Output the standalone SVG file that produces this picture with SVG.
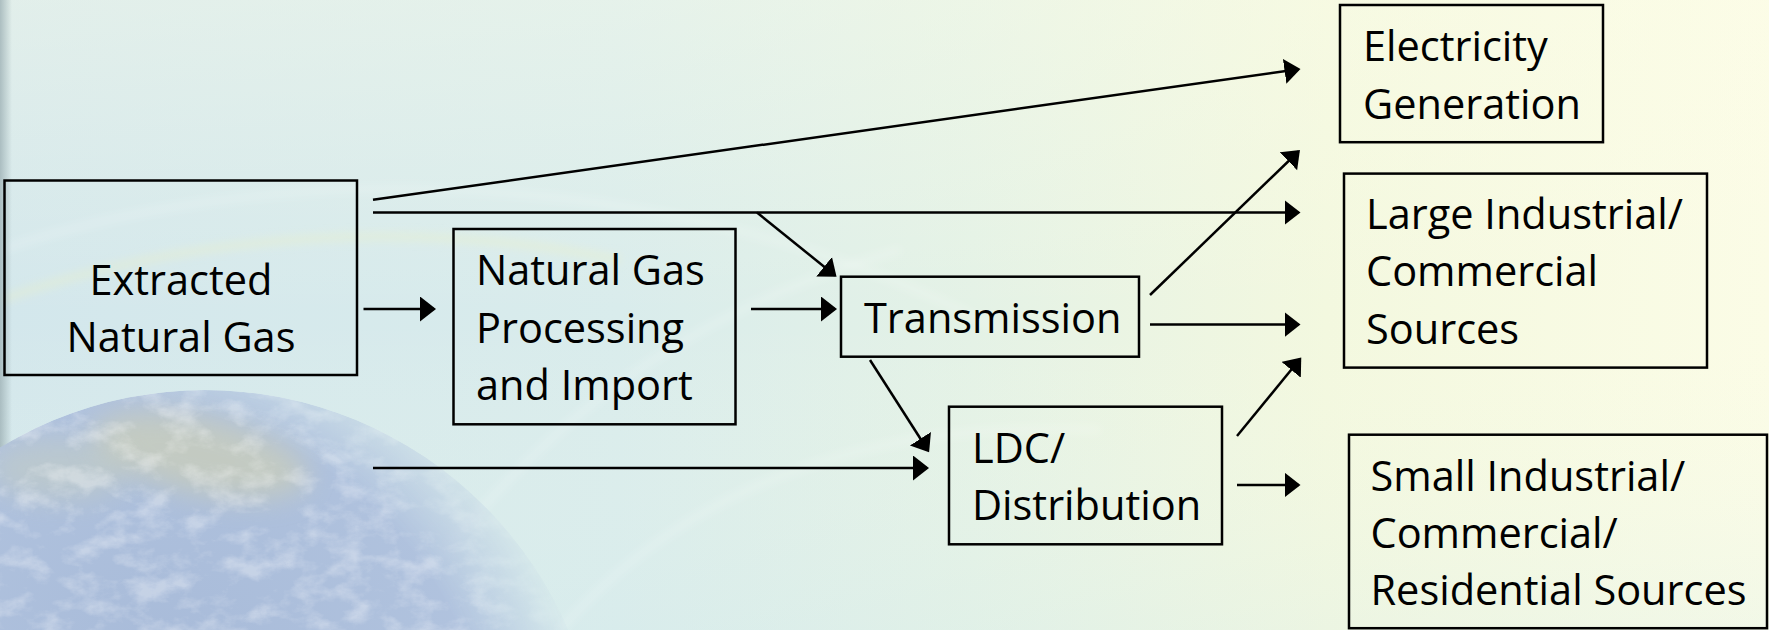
<svg xmlns="http://www.w3.org/2000/svg" width="1769" height="630" viewBox="0 0 1769 630">
  <style>
    .box { fill: none; stroke: #000; stroke-width: 2.5; }
    .lbl { font-family: "Open Sans", "Noto Sans", "Liberation Sans", sans-serif; font-size: 41.5px; fill: #000; }
    .mid { text-anchor: middle; }
    .flow { fill: none; stroke: #000; stroke-width: 2.5; marker-end: url(#head); }
  </style>
  <defs>
    <!-- backdrop: pale blue on the left fading to pale yellow on the right -->
    <linearGradient id="bg" x1="0" y1="0" x2="1" y2="0">
      <stop offset="0" stop-color="#d3e7ec"/>
      <stop offset="0.35" stop-color="#d9ecec"/>
      <stop offset="0.55" stop-color="#e4f2e6"/>
      <stop offset="0.75" stop-color="#f3f8df"/>
      <stop offset="1" stop-color="#fbfce6"/>
    </linearGradient>
    <linearGradient id="bgV" x1="0" y1="0" x2="0" y2="1">
      <stop offset="0" stop-color="#fdfde8" stop-opacity="0.35"/>
      <stop offset="0.5" stop-color="#fdfde8" stop-opacity="0"/>
      <stop offset="1" stop-color="#d6ecec" stop-opacity="0.25"/>
    </linearGradient>
    <linearGradient id="edge" x1="0" y1="0" x2="1" y2="0">
      <stop offset="0" stop-color="#9fb2b6" stop-opacity="0.8"/>
      <stop offset="1" stop-color="#9fb2b6" stop-opacity="0"/>
    </linearGradient>
    <!-- globe -->
    <radialGradient id="globeFill" cx="0.45" cy="0.35" r="0.65">
      <stop offset="0" stop-color="#a8bbd9"/>
      <stop offset="0.7" stop-color="#b2c4df"/>
      <stop offset="1" stop-color="#c6d6e6"/>
    </radialGradient>
    <radialGradient id="globeFade" cx="0.38" cy="0.5" r="0.62">
      <stop offset="0" stop-color="#fff"/>
      <stop offset="0.78" stop-color="#fff"/>
      <stop offset="1" stop-color="#000"/>
    </radialGradient>
    <mask id="globeMask" maskUnits="userSpaceOnUse" x="-300" y="300" width="900" height="900">
      <circle cx="205" cy="785" r="395" fill="url(#globeFade)"/>
    </mask>
    <filter id="clouds" x="0" y="380" width="560" height="250" filterUnits="userSpaceOnUse">
      <feTurbulence type="fractalNoise" baseFrequency="0.03 0.045" numOctaves="5" seed="11" result="n"/>
      <feColorMatrix in="n" type="matrix" values="0 0 0 0 1  0 0 0 0 1  0 0 0 0 1  3 0 0 0 -1.35"/>
      <feGaussianBlur stdDeviation="0.6"/>
    </filter>
    <filter id="soft" x="-50%" y="-50%" width="200%" height="200%">
      <feGaussianBlur stdDeviation="14"/>
    </filter>
    <filter id="haze" x="-20%" y="-20%" width="140%" height="140%">
      <feGaussianBlur stdDeviation="4"/>
    </filter>
    <marker id="head" markerUnits="userSpaceOnUse" markerWidth="17" markerHeight="26" refX="14" refY="12.5" orient="auto">
      <path d="M0,0 L16,12.5 L0,25 Z" fill="#000"/>
    </marker>
  </defs>

  <!-- backdrop -->
  <rect width="1769" height="630" fill="url(#bg)"/>
  <rect width="1769" height="630" fill="url(#bgV)"/>
  <g fill="none" stroke="#ffffff" stroke-opacity="0.22" stroke-width="6" filter="url(#haze)">
    <path d="M 0 250 C 300 150, 700 170, 1000 330"/>
    <path d="M 380 630 C 500 480, 620 330, 900 250"/>
    <path d="M 560 630 C 700 470, 900 420, 1100 430"/>
  </g>
  <g fill="none" stroke="#f3f2b8" stroke-opacity="0.3" stroke-width="8" filter="url(#haze)">
    <path d="M 0 300 C 200 230, 420 220, 620 260"/>
  </g>
  <rect width="12" height="630" fill="url(#edge)"/>

  <!-- globe in the lower left -->
  <g id="globe" mask="url(#globeMask)">
    <circle cx="205" cy="785" r="395" fill="url(#globeFill)"/>
    <ellipse cx="200" cy="455" rx="110" ry="38" transform="rotate(12 200 455)" fill="#d8d4a8" opacity="0.5" filter="url(#soft)"/>
    <ellipse cx="60" cy="470" rx="70" ry="30" fill="#d2d6b4" opacity="0.35" filter="url(#soft)"/>
    <rect x="0" y="380" width="560" height="250" filter="url(#clouds)" opacity="0.32"/>
  </g>

  <!-- connectors -->
  <g id="connectors">
    <line class="flow" x1="373" y1="199.7" x2="1298.5" y2="69.3"/>
    <line class="flow" x1="373" y1="212.5" x2="1298.5" y2="212.5"/>
    <line class="flow" x1="757" y1="212.5" x2="835" y2="275.5"/>
    <line class="flow" x1="363.5" y1="309" x2="434" y2="309"/>
    <line class="flow" x1="751" y1="309" x2="835" y2="309"/>
    <line class="flow" x1="1150" y1="295" x2="1298.5" y2="151.5"/>
    <line class="flow" x1="1150" y1="324.6" x2="1298.5" y2="324.6"/>
    <line class="flow" x1="870" y1="360" x2="928" y2="450.5"/>
    <line class="flow" x1="373" y1="468" x2="927" y2="468"/>
    <line class="flow" x1="1237" y1="436" x2="1300" y2="359"/>
    <line class="flow" x1="1237" y1="485" x2="1298.5" y2="485"/>
  </g>

  <!-- nodes -->
  <g id="extracted">
    <rect class="box" x="4.5" y="180.5" width="352.5" height="194.5"/>
    <text class="lbl mid" x="181" y="295">Extracted</text>
    <text class="lbl mid" x="181" y="352">Natural Gas</text>
  </g>
  <g id="processing">
    <rect class="box" x="453.5" y="229" width="282" height="195.3"/>
    <text class="lbl" x="476" y="285">Natural Gas</text>
    <text class="lbl" x="476" y="342.5">Processing</text>
    <text class="lbl" x="476" y="399.5">and Import</text>
  </g>
  <g id="transmission">
    <rect class="box" x="841" y="276.7" width="298" height="80"/>
    <text class="lbl" x="864" y="332.7">Transmission</text>
  </g>
  <g id="ldc">
    <rect class="box" x="949" y="406.7" width="273" height="137.6"/>
    <text class="lbl" x="972" y="462.7">LDC/</text>
    <text class="lbl" x="972" y="520">Distribution</text>
  </g>
  <g id="electricity">
    <rect class="box" x="1340" y="5" width="263" height="137.2"/>
    <text class="lbl" x="1363" y="61">Electricity</text>
    <text class="lbl" x="1363" y="118.5">Generation</text>
  </g>
  <g id="large">
    <rect class="box" x="1344" y="173.6" width="363" height="194"/>
    <text class="lbl" x="1366" y="229">Large Industrial/</text>
    <text class="lbl" x="1366" y="286">Commercial</text>
    <text class="lbl" x="1366" y="343.5">Sources</text>
  </g>
  <g id="small">
    <rect class="box" x="1349" y="434.7" width="418" height="193.5"/>
    <text class="lbl" x="1370.5" y="491">Small Industrial/</text>
    <text class="lbl" x="1370.5" y="548">Commercial/</text>
    <text class="lbl" x="1370.5" y="604.7">Residential Sources</text>
  </g>
</svg>
